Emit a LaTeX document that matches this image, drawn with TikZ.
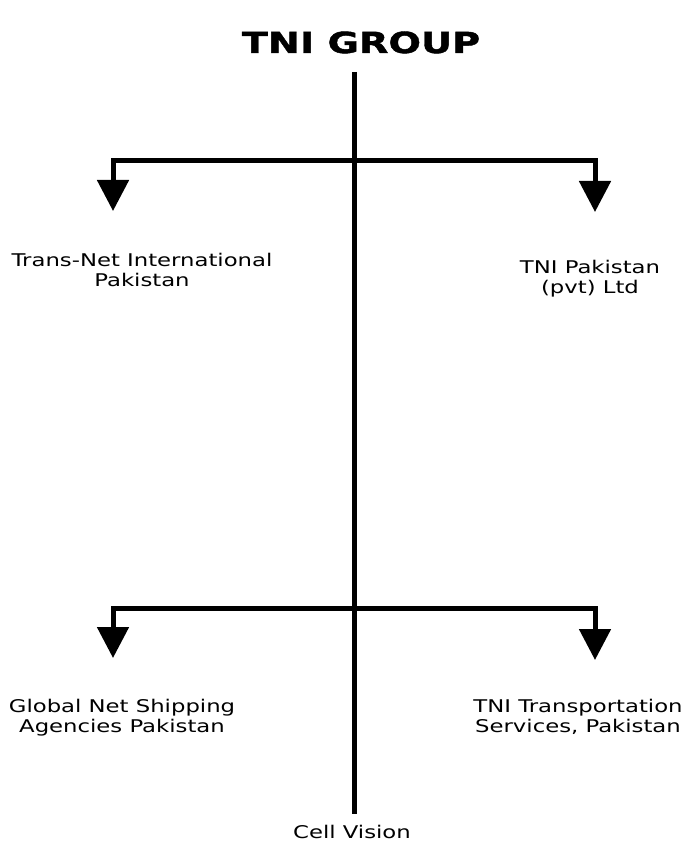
\documentclass[tikz,border=0pt]{standalone}
\usepackage{fontspec}
\usetikzlibrary{arrows.meta}
\newfontfamily\labelfont[FakeStretch=1.3]{DejaVu Sans}
\newfontfamily\titlefont[FakeStretch=1.32,FakeBold=1.5]{DejaVu Sans Bold}
\begin{document}
\begin{tikzpicture}[x=1pt,y=-1pt,
  conn/.style={line width=5pt, line join=miter, black},
  arr/.style={conn, -{Triangle[width=31pt,length=31pt]}},
  lbl/.style={font=\labelfont\fontsize{17.5}{20}\selectfont, align=center, inner sep=0pt, anchor=base},
  ttl/.style={font=\titlefont\fontsize{29}{32}\selectfont, inner sep=0pt, anchor=base}]
\useasboundingbox (0,0) rectangle (700,866);
\node[ttl] (title) at (361,53) {TNI GROUP};
\coordinate (top) at (354,72);
\coordinate (bot) at (354,814);
\coordinate (j1) at (354,161);
\coordinate (j2) at (354,608);
\coordinate (t1) at (113,211);
\coordinate (t2) at (595,212);
\coordinate (t3) at (113,658);
\coordinate (t4) at (595,660);
\draw[conn] (top) -- (bot);
\draw[arr] (j1) -| (t1);
\draw[arr] (j1) -| (t2);
\draw[arr] (j2) -| (t3);
\draw[arr] (j2) -| (t4);
\node[lbl] (n1) at (142,287) {Trans-Net International\\Pakistan};
\node[lbl] (n2) at (590,293) {TNI Pakistan\\(pvt) Ltd};
\node[lbl] (n3) at (122,732) {Global Net Shipping\\Agencies Pakistan};
\node[lbl] (n4) at (578,732) {TNI Transportation\\Services, Pakistan};
\node[lbl] (n5) at (352,838) {Cell Vision};
\end{tikzpicture}
\end{document}
